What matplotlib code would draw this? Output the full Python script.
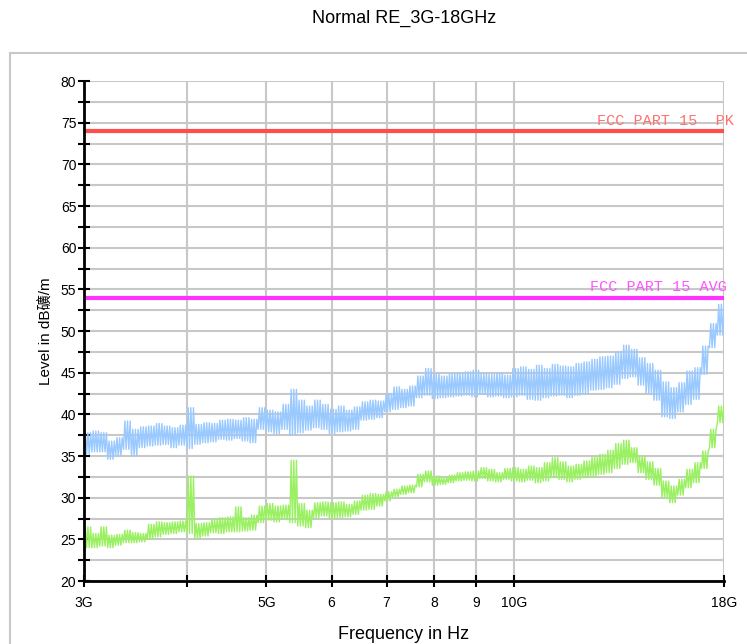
import numpy as np
import matplotlib
matplotlib.use("Agg")
import matplotlib.pyplot as plt
from matplotlib.patches import Rectangle

# fontes: Arial-like + CJK para o caractere do rótulo
plt.rcParams['font.family'] = ['Liberation Sans', 'Noto Sans CJK SC']

# limites FCC (dBuV/m)
pk_limit = 74
avg_limit = 54

# envelope do traço de pico (azul): mínimo / máximo por ponto
peak_lo = [35.2, 35.5, 35.5, 34.6, 35.0, 35.8, 35.0, 36.0, 36.2, 36.3,
           36.4, 36.0, 36.3, 35.9, 36.4, 36.6, 36.7, 37.0, 36.9, 37.1,
           36.8, 36.6, 38.2, 37.9, 37.7, 38.2, 37.5, 37.8, 38.1, 38.4,
           38.2, 37.7, 37.9, 38.0, 38.2, 39.3, 39.4, 39.6, 40.3, 40.6,
           40.8, 41.0, 42.0, 42.3, 41.9, 42.0, 42.1, 42.2, 42.3, 42.1,
           42.4, 42.1, 42.2, 42.0, 42.1, 42.3, 41.8, 41.7, 42.0, 42.2,
           42.3, 42.0, 42.3, 42.5, 42.9, 43.0, 43.2, 43.6, 44.3, 44.5,
           43.5, 42.5, 41.7, 39.7, 39.5, 40.3, 41.2, 41.8, 44.8, 48.0,
           49.5]
peak_hi = [37.8, 38.0, 37.8, 36.8, 37.2, 39.2, 38.2, 38.5, 38.6, 38.9,
           38.6, 38.4, 38.7, 40.8, 38.8, 39.0, 38.9, 39.3, 39.4, 39.3,
           39.6, 39.4, 40.8, 40.5, 40.3, 41.2, 43.0, 41.7, 41.0, 41.7,
           41.2, 40.6, 41.0, 40.5, 40.9, 41.5, 41.7, 41.6, 42.5, 43.3,
           43.0, 43.4, 44.6, 45.5, 44.9, 44.6, 44.9, 45.0, 45.1, 45.3,
           44.9, 44.8, 45.0, 44.7, 45.5, 45.7, 45.4, 45.9, 45.5, 46.0,
           45.8, 45.7, 46.1, 46.3, 46.6, 46.9, 47.0, 47.5, 48.3, 47.8,
           46.8, 46.1, 45.3, 43.9, 43.2, 43.8, 45.2, 45.6, 48.2, 50.9,
           53.2]

# envelope do traço médio (verde)
avg_lo = [24.0, 24.0, 24.2, 24.0, 24.3, 24.6, 24.6, 24.7, 25.0, 25.3,
          25.6, 25.7, 25.9, 25.7, 25.1, 25.4, 25.8, 25.7, 25.9, 25.9,
          26.0, 26.1, 27.0, 27.3, 27.1, 27.4, 27.0, 26.6, 26.4, 27.6,
          27.8, 27.5, 27.6, 27.7, 28.0, 28.5, 28.6, 29.0, 29.6, 30.1,
          30.4, 30.6, 31.3, 31.9, 31.5, 31.6, 31.8, 32.0, 32.1, 32.0,
          32.3, 32.0, 31.9, 32.2, 32.0, 31.9, 32.1, 31.8, 32.0, 32.4,
          32.2, 31.9, 32.2, 32.4, 32.5, 32.8, 33.0, 33.5, 34.0, 34.2,
          33.0, 32.2, 31.5, 30.0, 29.4, 30.3, 31.2, 31.8, 33.5, 36.0,
          39.0]
avg_hi = [26.5, 25.7, 26.5, 25.5, 25.6, 26.1, 25.8, 25.7, 26.8, 27.1,
          27.0, 27.1, 27.2, 32.6, 26.9, 27.0, 27.4, 27.6, 27.7, 28.9,
          27.6, 27.9, 29.0, 29.3, 29.0, 29.1, 34.5, 29.3, 28.5, 29.4,
          29.5, 29.4, 29.5, 29.2, 29.6, 30.3, 30.5, 30.4, 30.7, 31.0,
          31.4, 31.5, 32.8, 33.2, 32.6, 32.4, 32.7, 33.0, 33.1, 33.2,
          33.6, 33.4, 33.0, 33.5, 33.6, 33.4, 33.8, 33.6, 34.2, 34.8,
          34.3, 33.8, 34.0, 34.4, 34.9, 35.2, 35.7, 36.5, 36.9, 36.0,
          35.0, 34.3, 33.5, 32.0, 31.4, 32.2, 33.4, 34.2, 35.6, 38.2,
          41.0]

xtick_vals = [3, 4, 5, 6, 7, 8, 9, 10, 18]
xtick_labels = ["3G", "", "5G", "6", "7", "8", "9", "10G", "18G"]


def trace(lo, hi, rep=3):
    # varre o envelope: alterna mínimo e máximo várias vezes por ponto (GHz)
    y = np.tile(np.column_stack([lo, hi]), (1, rep)).ravel()
    f = np.geomspace(3, 18, len(y))
    return f, y


fig = plt.figure(figsize=(7.47, 6.44), dpi=100)
fig.patches.append(Rectangle((0.0134, -0.02), 1.05, 0.9377,
                             transform=fig.transFigure, fill=False,
                             edgecolor='#c8c8c8', linewidth=1.5))

ax = fig.add_axes([0.1124, 0.0978, 0.9692 - 0.1124, 0.8742 - 0.0978])
ax.set_xscale('log')
ax.set_xlim(3, 18)
ax.set_ylim(20, 80)

f, y = trace(peak_lo, peak_hi)
ax.plot(f, y, color='#99c9ff', linewidth=1.0, zorder=3)
f, y = trace(avg_lo, avg_hi)
ax.plot(f, y, color='#99f060', linewidth=1.0, zorder=3)

ax.axhline(pk_limit, color='#ff4d4d', linewidth=3, zorder=4)
ax.axhline(avg_limit, color='#ff33ff', linewidth=3, zorder=4)
ax.text(12.6, pk_limit + 0.4, "FCC PART 15  PK", family='Liberation Mono',
        fontsize=10.9, color='#ff7070', ha='left', va='bottom', zorder=5,
        clip_on=False)
ax.text(12.37, avg_limit + 0.4, "FCC PART 15 AVG", family='Liberation Mono',
        fontsize=10.9, color='#ff55ff', ha='left', va='bottom', zorder=5,
        clip_on=False)

ax.set_xticks(xtick_vals)
ax.set_xticklabels(xtick_labels)
ax.xaxis.set_minor_locator(matplotlib.ticker.NullLocator())
ax.set_yticks(np.arange(20, 81, 5))
ax.set_yticks(np.arange(22.5, 80, 5), minor=True)
ax.tick_params(axis='both', which='both', direction='inout', length=9,
               width=1.5, labelsize=10, color='black')
ax.tick_params(axis='x', pad=6)
ax.tick_params(axis='y', pad=1)

ax.grid(True, which='both', color='#c8c8c8', linewidth=1.5, zorder=0)
ax.set_axisbelow(True)
for side in ['top', 'right']:
    ax.spines[side].set_visible(False)
for side in ['left', 'bottom']:
    ax.spines[side].set_linewidth(2)
    ax.spines[side].set_zorder(6)

ax.set_xlabel("Frequency in Hz", fontsize=13, labelpad=12)
ax.set_ylabel("Level in dB礦/m", fontsize=11, labelpad=6)

fig.text(404 / 747, 1 - 18 / 644, "Normal RE_3G-18GHz", fontsize=13,
         ha='center', va='center')

fig.savefig("out.png", dpi=100)
